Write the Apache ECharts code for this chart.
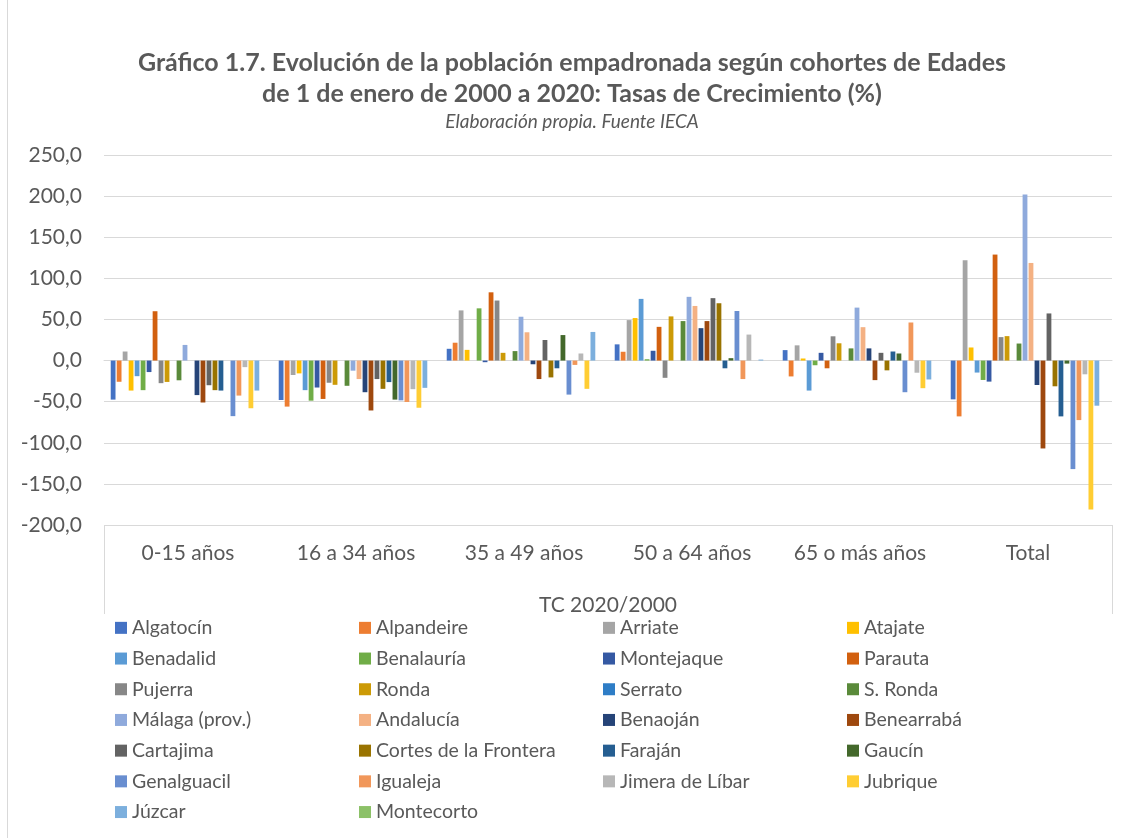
<!DOCTYPE html>
<html>
<head>
<meta charset="utf-8">
<script src="https://cdn.jsdelivr.net/npm/echarts@6/dist/echarts.min.js"></script>
<style>
html,body{margin:0;padding:0;background:#fff;}
#chart{width:1134px;height:838px;}
</style>
</head>
<body>
<div id="chart"></div>
<script>
const categories = ['0-15 años', '16 a 34 años', '35 a 49 años', '50 a 64 años', '65 o más años', 'Total'];
const axisTitle = 'TC 2020/2000';
const yTicks = { min: -200, max: 250, interval: 50 };

const algatocin   = [-47.5, -48.0, 14.3, 19.7, 12.7, -47.2];
const alpandeire  = [-25.8, -56.0, 21.7, 10.7, -19.3, -67.9];
const arriate     = [11.0, -17.6, 61.0, 49.2, 18.5, 122.0];
const atajate     = [-36.5, -15.6, 13.0, 51.7, 2.5, 15.9];
const benadalid   = [-19.0, -36.0, null, 75.0, -36.5, -14.6];
const benalauria  = [-36.0, -48.8, 63.5, 1.6, -5.7, -23.6];
const montejaque  = [-14.0, -32.8, -2.0, 11.9, 9.4, -25.6];
const parauta     = [60.0, -46.7, 83.0, 41.0, -9.4, 128.9];
const pujerra     = [-27.5, -27.0, 73.0, -21.0, 29.5, 28.5];
const ronda       = [-26.0, -29.5, 9.4, 53.7, 21.0, 29.7];
const serrato     = [null, null, null, null, null, null];
const sRonda      = [-24.0, -30.7, 11.5, 48.0, 14.8, 20.7];
const malaga      = [19.0, -12.3, 53.3, 77.5, 64.4, 202.0];
const andalucia   = [null, -22.5, 34.4, 66.4, 40.6, 118.7];
const benaojan    = [-42.0, -38.5, -4.5, 39.4, 14.8, -29.7];
const benearraba  = [-51.0, -60.7, -22.5, 48.0, -23.8, -106.9];
const cartajima   = [-30.0, -22.5, 25.0, 75.9, 9.4, 57.3];
const cortes      = [-36.0, -34.4, -20.5, 69.7, -11.9, -31.3];
const farajan     = [-36.5, -26.2, -9.4, -9.4, 11.0, -67.9];
const gaucin      = [null, -47.5, 31.0, 2.9, 8.6, -3.7];
const genalguacil = [-67.6, -48.4, -41.4, 60.3, -38.5, -132.0];
const igualeja    = [-42.6, -50.4, -5.3, -22.5, 46.3, -72.4];
const jimera      = [-8.0, -34.8, 8.6, 31.6, -14.8, -16.7];
const jubrique    = [-58.0, -57.4, -34.4, null, -33.6, -181.0];
const juzcar      = [-36.5, -33.2, 34.8, 1.2, -23.0, -54.9];
const montecorto  = [null, null, null, null, null, null];

const seriesNames = ['Algatocín', 'Alpandeire', 'Arriate', 'Atajate', 'Benadalid', 'Benalauría',
  'Montejaque', 'Parauta', 'Pujerra', 'Ronda', 'Serrato', 'S. Ronda', 'Málaga (prov.)', 'Andalucía',
  'Benaoján', 'Benearrabá', 'Cartajima', 'Cortes de la Frontera', 'Faraján', 'Gaucín',
  'Genalguacil', 'Igualeja', 'Jimera de Líbar', 'Jubrique', 'Júzcar', 'Montecorto'];
const seriesValues = [algatocin, alpandeire, arriate, atajate, benadalid, benalauria,
  montejaque, parauta, pujerra, ronda, serrato, sRonda, malaga, andalucia,
  benaojan, benearraba, cartajima, cortes, farajan, gaucin,
  genalguacil, igualeja, jimera, jubrique, juzcar, montecorto];
const seriesColors = ['#4472C4', '#ED7D31', '#A5A5A5', '#FFC000', '#5B9BD5', '#70AD47',
  '#3559A3', '#D2600F', '#878787', '#CC9A06', '#2E7DC6', '#5A8A3A', '#8FAADC', '#F4B183',
  '#264478', '#9E480E', '#636363', '#997300', '#255E91', '#43682B',
  '#698ED0', '#F1975A', '#B7B7B7', '#FFCD33', '#7CAFDD', '#8CC168'];

const FONT = 'Lato, "Open Sans", sans-serif';
const chart = echarts.init(document.getElementById('chart'));
chart.setOption({
  animation: false,
  backgroundColor: '#ffffff',
  color: seriesColors,
  title: [
    {
      text: 'Gráfico 1.7. Evolución de la población empadronada según cohortes de Edades\nde 1 de enero de 2000 a 2020: Tasas de Crecimiento (%)',
      left: 567, top: 42, textAlign: 'center',
      textStyle: { fontFamily: FONT, fontSize: 25, fontWeight: 'bold', color: '#595959', lineHeight: 31 }
    },
    {
      text: 'Elaboración propia. Fuente IECA',
      left: 567, top: 107, textAlign: 'center',
      textStyle: { fontFamily: FONT, fontSize: 19, fontStyle: 'italic', fontWeight: 'normal', color: '#595959' }
    }
  ],
  grid: { left: 104, right: 22, top: 155, bottom: 313, containLabel: false },
  xAxis: [{
    type: 'category',
    data: categories,
    axisLine: { show: true, lineStyle: { color: '#D9D9D9', width: 1 } },
    axisTick: { show: false },
    axisLabel: { interval: 0, fontFamily: FONT, fontSize: 21, color: '#595959', margin: 18 },
    name: axisTitle,
    nameLocation: 'middle',
    nameGap: 70,
    nameTextStyle: { fontFamily: FONT, fontSize: 21, color: '#595959' }
  }],
  yAxis: [{
    type: 'value',
    min: yTicks.min, max: yTicks.max, interval: yTicks.interval,
    axisLine: { show: false },
    axisTick: { show: false },
    splitLine: { lineStyle: { color: '#D9D9D9', width: 1 } },
    axisLabel: {
      fontFamily: FONT, fontSize: 21, color: '#595959', margin: 22,
      formatter: v => v.toFixed(1).replace('.', ',')
    }
  }],
  legend: {
    left: 110, top: 610, width: 1000,
    orient: 'horizontal',
    icon: 'rect', itemWidth: 12, itemHeight: 12, itemGap: 5,
    textStyle: { fontFamily: FONT, fontSize: 19.5, color: '#595959', width: 222, lineHeight: 25.7, padding: [0, 0, 0, 0] },
    data: seriesNames
  },
  graphic: [
    { type: 'rect', silent: true, shape: { x: 7.5, y: -5, width: 1140, height: 860 },
      style: { fill: 'none', stroke: '#D9D9D9', lineWidth: 1 } },
    { type: 'line', silent: true, shape: { x1: 104.5, y1: 525, x2: 104.5, y2: 614 },
      style: { stroke: '#D9D9D9', lineWidth: 1 } },
    { type: 'line', silent: true, shape: { x1: 1112.5, y1: 525, x2: 1112.5, y2: 614 },
      style: { stroke: '#D9D9D9', lineWidth: 1 } }
  ],
  series: seriesNames.map((name, i) => ({
    name: name,
    type: 'bar',
    data: seriesValues[i],
    barGap: '25%',
    barCategoryGap: '8%',
    itemStyle: { color: seriesColors[i] }
  }))
});
</script>
</body>
</html>
